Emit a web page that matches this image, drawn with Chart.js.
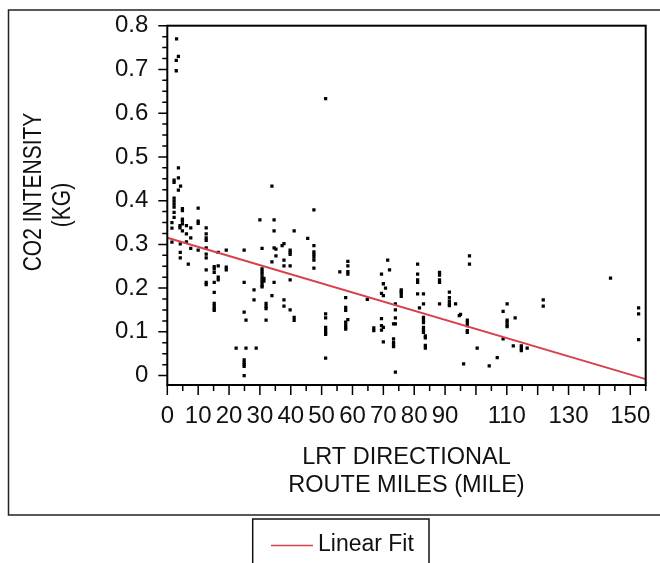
<!DOCTYPE html>
<html>
<head>
<meta charset="utf-8">
<script src="https://cdn.jsdelivr.net/npm/chart.js@4.4.1/dist/chart.umd.min.js"></script>
<style>
  html, body { margin: 0; padding: 0; background: #fff; overflow: hidden; }
  #wrap { width: 660px; height: 563px; position: relative; }
</style>
</head>
<body>
<div id="wrap"><canvas id="co2Chart"></canvas></div>
<script>
// LRT directional route miles (x) and CO2 intensity in kg (y), one entry per point
const routeMiles = [
  1.5, 1.5, 1.5,
  2.2, 2.2, 2.2, 2.2, 2.2, 2.2, 2.2, 2.2,
  2.9, 2.9, 3.0,
  3.6, 3.6, 3.6, 3.6, 4.3,
  4.1, 4.1, 4.2, 4.2, 4.2,
  4.9, 4.9, 4.9, 4.9, 4.9, 4.9,
  6.2, 6.2, 6.2, 6.8,
  7.6, 7.6, 7.6,
  10, 10, 10, 10,
  12.6, 12.6, 12.6, 12.6, 12.6, 12.6, 12.6, 12.6, 12.6, 12.6,
  15.2, 15.2, 15.2, 15.2, 15.2, 15.2, 15.2, 15.2, 15.2,
  16.5, 16.5, 16.5, 16.5,
  19.1, 19.1, 19.1, 22.3,
  24.9, 24.9, 24.9, 24.9, 24.9, 24.9, 24.9, 24.9,
  25.5, 25.5, 28.1, 28.1, 28.8, 30.0,
  30.7, 30.7, 30.7, 30.7, 30.7, 30.7, 30.7, 30.7, 30.7,
  31.3, 31.3,
  32.0, 32.0, 32.0, 32.0,
  33.9, 33.9, 33.9,
  34.6, 34.6, 34.6, 34.6,
  35.2, 35.2, 37.2,
  37.8, 37.8, 37.8, 37.8, 37.8,
  39.8, 39.8, 39.8, 39.8, 39.8, 39.8,
  41.1, 41.1, 41.1, 45.5,
  47.5, 47.5, 47.5, 47.5, 47.5, 47.5, 47.5,
  51.3, 51.3, 51.3, 51.3, 51.3, 51.3, 51.3, 51.3,
  55.9,
  57.8, 57.8, 57.8, 57.8, 57.8, 57.8, 57.8,
  58.5, 58.5, 58.5, 58.5, 58.5,
  64.8, 66.9, 66.9,
  69.4, 69.4, 69.4, 69.4, 69.4,
  70.0, 70.0, 70.0, 70.0, 70.7, 71.4, 72.0,
  73.3, 73.3, 73.3, 73.3, 73.3,
  73.9, 73.9, 73.9, 73.9, 73.9,
  75.8, 75.8, 75.8, 75.8,
  81.1, 81.1, 81.1, 81.1, 81.1, 81.7,
  83.0, 83.0, 83.0, 83.0, 83.0, 83.0, 83.0, 83.0,
  83.6, 83.6, 83.6, 83.6,
  88.2, 88.2, 88.2, 88.2, 88.2,
  91.4, 91.4, 91.4, 91.4, 91.4, 93.4, 94.6, 95.0, 96.0,
  97.2, 97.2, 97.2, 97.2, 97.2,
  97.9, 97.9, 100.4, 104.3, 106.9,
  108.8, 108.8,
  110.1, 110.1, 110.1, 110.1, 110.1, 112.1, 112.7,
  114.7, 114.7, 114.7, 116.6,
  121.8, 121.8, 143.6,
  152.7, 152.7, 152.7
];
const co2Intensity = [
  0.350, 0.337, 0.305,
  0.447, 0.442, 0.406, 0.399, 0.392, 0.385, 0.373, 0.362,
  0.721, 0.697, 0.770,
  0.730, 0.475, 0.452, 0.424, 0.433,
  0.343, 0.338, 0.301, 0.282, 0.269,
  0.382, 0.377, 0.358, 0.354, 0.347, 0.331,
  0.343, 0.324, 0.306, 0.255,
  0.338, 0.315, 0.291,
  0.383, 0.353, 0.348, 0.287,
  0.338, 0.324, 0.315, 0.309, 0.292, 0.278, 0.269, 0.242, 0.213, 0.208,
  0.249, 0.244, 0.236, 0.213, 0.190, 0.165, 0.159, 0.153, 0.149,
  0.282, 0.251, 0.225, 0.219,
  0.287, 0.248, 0.242, 0.063,
  0.287, 0.213, 0.145, 0.036, 0.030, 0.025, 0.021, 0.000,
  0.127, 0.063, 0.196, 0.173, 0.063, 0.356,
  0.291, 0.244, 0.238, 0.232, 0.225, 0.219, 0.213, 0.206, 0.203,
  0.222, 0.216,
  0.165, 0.158, 0.153, 0.127,
  0.433, 0.260, 0.183,
  0.356, 0.331, 0.292, 0.213,
  0.289, 0.274, 0.297,
  0.302, 0.264, 0.251, 0.173, 0.159,
  0.287, 0.282, 0.277, 0.251, 0.219, 0.150,
  0.331, 0.133, 0.126, 0.314,
  0.379, 0.297, 0.283, 0.277, 0.271, 0.264, 0.246,
  0.633, 0.141, 0.132, 0.110, 0.104, 0.098, 0.094, 0.040,
  0.237,
  0.178, 0.156, 0.149, 0.122, 0.116, 0.110, 0.106,
  0.261, 0.251, 0.238, 0.232, 0.128,
  0.174, 0.109, 0.103,
  0.232, 0.188, 0.130, 0.114, 0.104,
  0.210, 0.183, 0.110, 0.077, 0.200, 0.264, 0.242,
  0.118, 0.084, 0.076, 0.070, 0.066,
  0.164, 0.150, 0.132, 0.118, 0.008,
  0.196, 0.192, 0.188, 0.181,
  0.255, 0.232, 0.219, 0.213, 0.187, 0.155,
  0.187, 0.164, 0.133, 0.127, 0.121, 0.110, 0.104, 0.099,
  0.091, 0.086, 0.069, 0.063,
  0.236, 0.230, 0.219, 0.213, 0.164,
  0.191, 0.178, 0.170, 0.164, 0.160, 0.164, 0.137, 0.140, 0.027,
  0.127, 0.121, 0.114, 0.103, 0.099,
  0.274, 0.255, 0.063, 0.022, 0.041,
  0.147, 0.084,
  0.164, 0.127, 0.122, 0.116, 0.112, 0.068, 0.132,
  0.068, 0.062, 0.057, 0.063,
  0.173, 0.159, 0.223,
  0.155, 0.141, 0.082
];

// linear fit end points
const fitMiles = [0, 155];
const fitIntensity = [0.315, -0.008];

// labelled ticks (100, 120 and 140 carry no label in the original)
const xTickLabels = [0, 10, 20, 30, 40, 50, 60, 70, 80, 90, 110, 130, 150];
const yTickLabels = [0, 0.1, 0.2, 0.3, 0.4, 0.5, 0.6, 0.7, 0.8];
const yTitleLines = ['CO2 INTENSITY', '(KG)'];

const FIT_RED = '#d8404f';
const FONT = '"Liberation Sans", Arial, sans-serif';

Chart.defaults.font.family = FONT;
Chart.defaults.color = '#111';

const isLabelled = (list, v) => list.some(t => Math.abs(t - v) < 1e-6);

// frames, hand-drawn tick marks, y title and the boxed legend
const framePlugin = {
  id: 'frames',
  beforeDraw(chart) {
    const ctx = chart.ctx;
    ctx.save();
    ctx.fillStyle = '#fff';
    ctx.fillRect(0, 0, chart.width, chart.height);
    ctx.restore();
  },
  afterDraw(chart) {
    const { ctx, chartArea: a, scales } = chart;
    ctx.save();

    ctx.strokeStyle = '#222';
    ctx.lineWidth = 1.5;
    ctx.strokeRect(8.5, 10, 670, 505);

    ctx.strokeStyle = '#000';
    ctx.lineWidth = 2;
    ctx.strokeRect(a.left, a.top, a.right - a.left, a.bottom - a.top);

    ctx.lineWidth = 1.5;
    ctx.beginPath();
    scales.x.ticks.forEach(t => {
      const px = scales.x.getPixelForValue(t.value);
      const len = t.value % 10 === 0 ? 10 : 6;
      ctx.moveTo(px, a.bottom);
      ctx.lineTo(px, a.bottom + len);
    });
    scales.y.ticks.forEach(t => {
      if (t.value < 0) return;
      const py = scales.y.getPixelForValue(t.value);
      const len = isLabelled(yTickLabels, t.value) ? 9 : 5;
      ctx.moveTo(a.left, py);
      ctx.lineTo(a.left - len, py);
    });
    ctx.stroke();

    // y axis title, two rotated lines
    ctx.fillStyle = '#111';
    ctx.textAlign = 'center';
    ctx.textBaseline = 'middle';
    ctx.font = '21px ' + FONT;
    [[34, 192], [63, 205]].forEach(([x, y], i) => {
      ctx.save();
      ctx.translate(x, y);
      ctx.rotate(-Math.PI / 2);
      ctx.scale(1, 1.2);
      ctx.fillText(yTitleLines[i], 0, 0);
      ctx.restore();
    });

    // legend box
    const fit = chart.data.datasets[0];
    ctx.strokeStyle = '#111';
    ctx.lineWidth = 1.5;
    ctx.strokeRect(252.7, 519, 176.3, 60);
    ctx.strokeStyle = fit.borderColor;
    ctx.beginPath();
    ctx.moveTo(271, 545.5);
    ctx.lineTo(313, 545.5);
    ctx.stroke();
    ctx.textAlign = 'left';
    ctx.font = '23px ' + FONT;
    ctx.fillText(fit.label, 318, 545);

    ctx.restore();
  }
};

new Chart(document.getElementById('co2Chart'), {
  type: 'scatter',
  data: {
    datasets: [
      {
        type: 'line',
        label: 'Linear Fit',
        data: fitMiles.map((x, i) => ({ x, y: fitIntensity[i] })),
        borderColor: FIT_RED,
        borderWidth: 2,
        pointRadius: 0,
        fill: false
      },
      {
        label: 'CO2 Intensity',
        data: routeMiles.map((x, i) => ({ x, y: co2Intensity[i] })),
        pointStyle: 'rect',
        pointRadius: 2.3,
        pointBorderWidth: 0,
        backgroundColor: '#000',
        borderColor: '#000'
      }
    ]
  },
  options: {
    responsive: true,
    maintainAspectRatio: false,
    animation: false,
    layout: { padding: { top: 25.7, right: 14.3, bottom: 62.6, left: 0 } },
    plugins: {
      legend: { display: false },
      tooltip: { enabled: false }
    },
    scales: {
      x: {
        type: 'linear',
        min: 0,
        max: 155,
        afterFit: s => { s.height = 115.4; },
        grid: { display: false },
        border: { display: false },
        ticks: {
          stepSize: 5,
          autoSkip: false,
          maxRotation: 0,
          padding: 9,
          font: { size: 24 },
          color: '#111',
          callback: v => isLabelled(xTickLabels, v) ? String(v) : ''
        },
        title: {
          display: true,
          text: ['LRT DIRECTIONAL', 'ROUTE MILES (MILE)'],
          font: { size: 23.5, lineHeight: 1.23 },
          color: '#111',
          padding: { top: 0, bottom: 0 }
        }
      },
      y: {
        type: 'linear',
        min: -0.0215,
        max: 0.8,
        afterFit: s => { s.width = 167.3; },
        grid: { display: false },
        border: { display: false },
        ticks: {
          stepSize: 0.025,
          includeBounds: false,
          autoSkip: false,
          padding: 11,
          font: { size: 24 },
          color: '#111',
          callback: v => isLabelled(yTickLabels, v) ? (v === 0 ? '0' : v.toFixed(1)) : ''
        }
      }
    }
  },
  plugins: [framePlugin]
});
</script>
</body>
</html>
